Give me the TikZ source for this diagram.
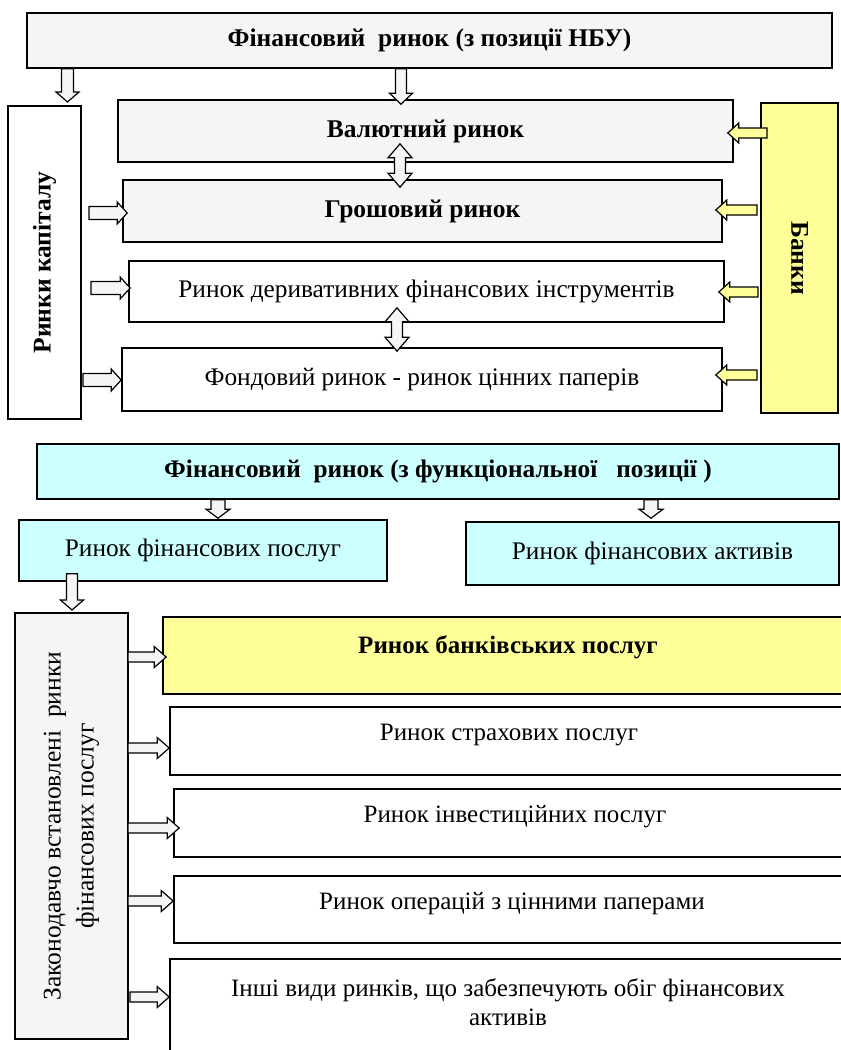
\documentclass[tikz,border=0pt]{standalone}
\usepackage{fontspec}
\setmainfont{Liberation Serif}
\usetikzlibrary{calc}
\definecolor{boxgray}{HTML}{F5F5F5}
\definecolor{boxyellow}{HTML}{FFFF99}
\definecolor{boxcyan}{HTML}{CCFFFF}
\tikzset{
  box/.style={draw, line width=1.6pt, inner sep=0pt, align=center},
  arr/.style={draw, line width=1.2pt, line join=miter},
  tbold/.style={font=\bfseries\fontsize{25.5}{30}\selectfont},
  treg/.style={font=\fontsize{25.3}{30}\selectfont},
  tcb/.style={font=\bfseries\fontsize{25.3}{30}\selectfont},
  tcr/.style={font=\fontsize{25.3}{30}\selectfont},
  tlow/.style={font=\fontsize{25}{29}\selectfont, align=center},
  tlowb/.style={font=\bfseries\fontsize{25}{29}\selectfont, align=center},
}
% block arrows: [fill]{from}{to}{shaft half}{head half}{head length}
\newcommand\ArrDown[6][boxgray]{\draw[arr,fill=#1] let \p1=(#2),\p2=(#3) in
  (\x1-#4pt,\y1) -- (\x1-#4pt,\y2+#6pt) -- (\x1-#5pt,\y2+#6pt) -- (\x1,\y2)
  -- (\x1+#5pt,\y2+#6pt) -- (\x1+#4pt,\y2+#6pt) -- (\x1+#4pt,\y1) -- cycle;}
\newcommand\ArrRight[6][boxgray]{\draw[arr,fill=#1] let \p1=(#2),\p2=(#3) in
  (\x1,\y1+#4pt) -- (\x2-#6pt,\y1+#4pt) -- (\x2-#6pt,\y1+#5pt) -- (\x2,\y1)
  -- (\x2-#6pt,\y1-#5pt) -- (\x2-#6pt,\y1-#4pt) -- (\x1,\y1-#4pt) -- cycle;}
\newcommand\ArrLeft[6][boxyellow]{\draw[arr,fill=#1] let \p1=(#2),\p2=(#3) in
  (\x1,\y1+#4pt) -- (\x2+#6pt,\y1+#4pt) -- (\x2+#6pt,\y1+#5pt) -- (\x2,\y1)
  -- (\x2+#6pt,\y1-#5pt) -- (\x2+#6pt,\y1-#4pt) -- (\x1,\y1-#4pt) -- cycle;}
\newcommand\ArrBoth[6][boxgray]{\draw[arr,fill=#1] let \p1=(#2),\p2=(#3) in
  (\x1,\y1) -- (\x1+#5pt,\y1-#6pt) -- (\x1+#4pt,\y1-#6pt) -- (\x1+#4pt,\y2+#6pt)
  -- (\x1+#5pt,\y2+#6pt) -- (\x1,\y2) -- (\x1-#5pt,\y2+#6pt) -- (\x1-#4pt,\y2+#6pt)
  -- (\x1-#4pt,\y1-#6pt) -- (\x1-#5pt,\y1-#6pt) -- cycle;}
\begin{document}
\begin{tikzpicture}[x=1pt,y=-1pt]
\path[use as bounding box] (0,0) rectangle (841,1050);
\clip (0,0) rectangle (841,1050);
\fill[white] (0,0) rectangle (841,1050);

% ---------- section 1 ----------
\node[box, fill=boxgray, minimum width=805pt, minimum height=55pt, tbold] (top) at (429.5,40.5) {Фінансовий\ \ ринок (з позиції НБУ)};
\node[box, fill=white, rotate=90, minimum width=313pt, minimum height=73pt, tbold] (lk) at (44.5,262.5) {Ринки капіталу};
\node[box, fill=boxgray, minimum width=615pt, minimum height=62pt, tbold] (val) at (425.5,131) {Валютний ринок};
\node[box, fill=boxgray, minimum width=599pt, minimum height=62pt, tbold] (gro) at (422.5,211) {Грошовий ринок};
\node[box, fill=white, minimum width=595pt, minimum height=61pt, treg] (der) at (426.5,291.5) {Ринок деривативних фінансових інструментів};
\node[box, fill=white, minimum width=600pt, minimum height=63pt, treg] (fon) at (422,379.5) {Фондовий ринок - ринок цінних паперів};
\node[box, fill=boxyellow, rotate=-90, minimum width=310pt, minimum height=77pt, tbold] (bank) at (799.5,258) {Банки};

\ArrDown{$(top.south)+(-362,0)$}{$(lk.center)+(23,-160.5)$}{6}{11.5}{10}
\ArrDown{$(top.south)+(-28.5,0)$}{$(val.north)+(-24.5,5)$}{5.5}{11.5}{11}
\ArrBoth{$(val.south)+(-25.5,-19)$}{$(gro.north)+(-22.5,8)$}{5.5}{12}{14}
\ArrBoth{$(der.south)+(-29.5,-15)$}{$(fon.north)+(-25,4)$}{5.5}{12}{14}
\ArrRight{$(lk.center)+(44.5,-49.5)$}{$(gro.west)+(5,2)$}{6.5}{11}{10}
\ArrRight{$(lk.center)+(46.5,25.5)$}{$(der.west)+(2,-3.5)$}{6.5}{11}{10}
\ArrRight{$(lk.center)+(38.5,117.5)$}{$(fon.west)+(0,0.5)$}{6.5}{11}{10}
\ArrLeft{$(bank.center)+(-32.5,-125)$}{$(val.east)+(-6,2)$}{5}{10}{11}
\ArrLeft{$(bank.center)+(-42.5,-48)$}{$(gro.east)+(-7,-1)$}{5}{10}{11}
\ArrLeft{$(bank.center)+(-41.5,34)$}{$(der.east)+(-6,0.5)$}{5}{10}{11}
\ArrLeft{$(bank.center)+(-42.5,117)$}{$(fon.east)+(-7,-4.5)$}{5}{10}{11}

% ---------- section 2 ----------
\node[box, fill=boxcyan, minimum width=802pt, minimum height=55pt, tcb] (fh) at (438,471.5) {Фінансовий\ \ ринок (з функціональної\ \ \ позиції )};
\node[box, fill=boxcyan, minimum width=368pt, minimum height=61pt, tcr] (fp) at (203,550.5) {Ринок фінансових послуг};
\node[box, fill=boxcyan, minimum width=373pt, minimum height=63pt, tcr] (fa) at (652.5,553.5) {Ринок фінансових активів};

\ArrDown{$(fh.south)+(-220,0)$}{$(fp.north)+(15,-1)$}{7}{12}{9}
\ArrDown{$(fh.south)+(213,0)$}{$(fa.north)+(-1.5,-3)$}{7}{12}{9}

% ---------- section 3 ----------
\node[box, fill=boxgray, rotate=90, minimum width=426pt, minimum height=113pt, font=\fontsize{25.5}{33}\selectfont] (zak) at (71.5,826) {Законодавчо встановлені\ \ ринки\\фінансових послуг};
\node[box, fill=boxyellow, minimum width=690pt, minimum height=77pt] (bnk) at (508,655.5) {};
\node[box, fill=white, minimum width=678pt, minimum height=68pt] (str) at (509,741) {};
\node[box, fill=white, minimum width=682pt, minimum height=68pt] (inv) at (515,823) {};
\node[box, fill=white, minimum width=676pt, minimum height=67pt] (ops) at (512,909.5) {};
\node[box, fill=white, minimum width=676pt, minimum height=111pt] (oth) at (508,1014.5) {};
\node[tlowb] (bnkt) at ($(bnk.center)+(0,-8.5)$) {Ринок банківських послуг};
\node[tlow] (strt) at ($(str.center)+(0,-6)$) {Ринок страхових послуг};
\node[tlow] (invt) at ($(inv.center)+(0,-6)$) {Ринок інвестиційних послуг};
\node[tlow] (opst) at ($(ops.center)+(0,-6)$) {Ринок операцій з цінними паперами};
\node[tlow] (otht) at ($(oth.center)+(0,-12.5)$) {Інші види ринків, що забезпечують обіг фінансових\\активів};

\ArrDown{$(fp.south)+(-131,-8)$}{$(zak.center)+(0.5,-216)$}{5.5}{11.5}{10}
\ArrRight{$(zak.center)+(56.5,-169)$}{$(bnk.west)+(4,1.5)$}{5}{10.5}{12}
\ArrRight{$(zak.center)+(56.5,-78)$}{$(str.west)+(0,7)$}{5}{10.5}{12}
\ArrRight{$(zak.center)+(56.5,2)$}{$(inv.west)+(6,5)$}{5}{10.5}{12}
\ArrRight{$(zak.center)+(56.5,75)$}{$(ops.west)+(0,-8.5)$}{5}{10.5}{12}
\ArrRight{$(zak.center)+(58.5,171)$}{$(oth.west)+(0,-17.5)$}{5}{10.5}{12}
\end{tikzpicture}
\end{document}
